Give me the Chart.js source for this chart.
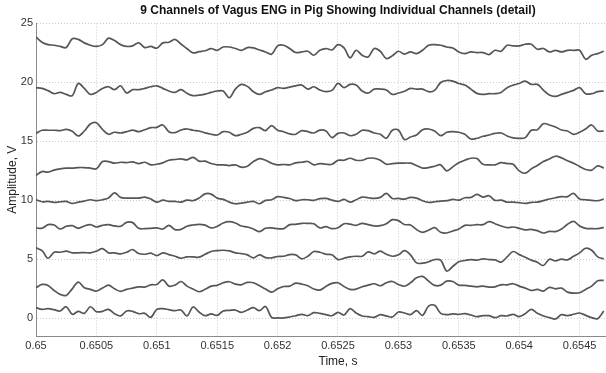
<!DOCTYPE html>
<html>
<head>
  <title>Vagus ENG - 9 channels</title>
  <script src="https://cdn.jsdelivr.net/npm/chart.js"></script>
  <style>
    html, body { margin: 0; padding: 0; background: #fff; overflow: hidden; }
    .wrap { width: 606px; height: 373px; overflow: hidden; position: relative; }
    canvas { display: block; }
  </style>
</head>
<body>
  <div class="wrap">
    <canvas id="eng" width="642" height="373"></canvas>
  </div>

  <script>
    // sampling grid (s)
    const tStart = 0.65;
    const tStep = 0.00005;

    const xTickLabels = ['0.65', '0.6505', '0.651', '0.6515', '0.652', '0.6525', '0.653', '0.6535', '0.654', '0.6545'];
    const yTickLabels = [0, 5, 10, 15, 20, 25];

    // one array per channel (V)
    const ch1 = [0.9,0.76,0.82,0.73,0.62,0.98,0.34,0.59,0.42,0.98,0.56,0.59,0.76,0.39,0.2,0.62,0.59,0.39,0.42,0.08,0.76,0.82,0.73,0.65,0.7,0.2,0.96,0.53,0.22,
      0.37,0.25,0.62,0.67,0.7,0.51,0.7,0.9,0.65,1.01,0.08,0.03,0.03,0.11,0.22,0.34,0.22,0.48,0.42,0.31,0.22,0.51,0.28,0.82,0.45,0.2,0.14,0.08,0.31,0.2,0.11,0.53,0.45,
      0.31,0.65,0.25,1.04,1.1,0.42,0.31,0.37,0.34,0.39,0.28,0.14,0.22,0.22,0.06,0.22,0.2,0.34,0.14,0.39,0.76,0.42,0.2,0.06,-0.06,0.31,0.22,0.34,0.45,0.25,0.06,-0.03,0.62];
    const ch2 = [2.59,2.87,2.79,2.36,2.03,1.94,2.5,3.07,2.59,2.45,2.31,2.56,2.81,2.5,2.28,2.45,2.56,2.67,2.65,2.84,2.87,3.26,2.73,2.81,3.12,2.73,2.48,2.25,2.46,
      2.73,2.79,3.01,3.1,2.9,2.84,3.04,3.01,2.76,2.48,2.22,2.5,2.7,2.73,2.98,2.9,2.76,2.48,2.39,2.7,2.96,3.01,2.7,2.45,2.48,2.67,2.81,2.93,2.76,3.01,3.12,2.87,2.72,
      3.01,3.43,3.55,3.15,2.79,2.81,3.15,3.12,2.81,2.79,2.73,2.67,2.73,2.65,2.67,2.84,2.84,2.93,2.73,2.56,2.36,2.45,2.31,2.62,2.5,2.56,2.22,2.14,2.17,2.45,2.73,3.18,3.21];
    const ch3 = [5.97,5.74,5.09,5.6,5.6,5.69,5.55,5.55,5.57,5.55,5.69,5.91,5.55,5.55,5.46,5.6,5.83,5.49,5.43,5.52,5.32,5.55,5.4,5.26,5.09,5.21,5.21,5.18,5.43,
      5.66,5.74,5.77,5.71,5.55,5.49,5.38,5.12,5.38,5.15,5.12,5.24,5.26,5.4,5.38,5.04,5.26,5.66,5.6,5.43,5.38,4.98,5.09,5.21,5.26,5.26,5.63,5.46,5.69,5.43,5.26,5.38,5.73,
      5.38,4.7,4.67,4.79,4.98,4.93,4.0,4.39,4.79,4.9,4.98,4.93,5.04,4.98,4.95,4.76,5.21,5.66,5.4,5.18,4.93,4.76,4.48,5.01,4.87,5.01,4.95,5.26,5.55,5.94,5.77,5.21,5.04];
    const ch4 = [7.66,7.63,7.94,7.91,7.57,7.8,7.85,7.63,7.83,7.94,7.74,7.88,7.94,7.83,7.8,8.13,8.11,7.63,7.6,7.63,7.66,7.57,7.88,7.52,7.54,7.8,7.91,7.97,7.9,
      7.66,7.8,8.08,8.19,8.08,7.83,7.74,7.57,7.35,7.63,7.66,7.6,7.6,7.94,7.97,8.05,8.05,8.02,7.66,7.77,7.6,7.68,8.02,7.99,7.88,8.05,7.94,7.83,7.85,8.02,8.36,8.28,7.95,
      7.91,7.52,7.29,7.46,7.68,7.29,7.23,7.4,7.57,7.88,7.88,7.94,7.94,8.19,8.02,7.83,7.68,7.74,7.63,7.49,7.54,7.43,7.23,7.37,7.35,7.57,7.97,8.22,7.83,7.63,7.6,7.6,7.71];
    const ch5 = [10.05,9.88,9.91,9.83,9.88,9.91,9.74,9.85,9.94,10.05,9.97,10.05,10.19,10.64,10.25,10.19,10.19,10.19,10.28,10.11,9.85,10.02,9.91,9.91,9.85,10.02,9.97,10.19,10.55,
      10.53,10.19,10.08,9.85,9.71,9.77,9.85,9.91,9.71,10.0,10.05,10.31,10.25,10.16,9.97,10.05,10.05,10.0,10.14,10.16,10.02,9.91,10.08,9.85,10.05,10.28,10.22,10.16,10.25,10.59,10.16,10.16,10.1,
      10.25,10.19,9.97,9.83,9.88,9.94,9.97,10.08,10.02,10.22,10.25,10.5,10.28,10.39,10.0,10.02,9.85,9.85,9.8,9.74,9.83,9.85,9.97,10.11,10.22,10.31,10.31,10.59,10.11,10.05,10.0,9.97,10.11];
    const ch6 = [12.11,12.44,12.39,12.56,12.67,12.73,12.73,12.78,12.78,12.73,12.67,13.29,13.29,13.15,13.23,13.2,13.26,13.12,13.23,13.01,13.06,13.18,13.4,13.46,13.51,13.43,13.65,13.32,13.32,
      13.12,13.01,13.01,12.95,13.01,12.81,12.89,13.29,13.54,13.4,13.15,13.01,13.04,13.01,13.18,13.23,13.29,13.01,13.12,13.06,13.06,13.4,13.4,13.57,13.4,13.4,13.57,13.57,13.4,13.06,13.12,13.15,13.16,
      13.15,12.95,12.73,12.78,12.89,13.01,12.5,12.84,13.18,13.4,13.57,13.54,13.06,13.01,13.01,13.2,13.12,13.06,12.5,12.3,12.67,12.95,13.29,13.51,13.74,13.6,13.35,13.15,12.87,12.61,12.56,12.92,12.73];
    const ch7 = [15.68,15.94,15.94,15.94,15.91,16.02,15.85,15.46,15.88,16.47,16.58,16.02,15.6,15.77,15.71,15.82,15.96,15.82,15.99,16.16,16.19,16.39,15.82,15.74,15.96,16.05,15.94,15.88,15.72,
      15.6,15.54,15.82,15.77,15.48,15.6,15.77,16.1,16.16,15.91,16.33,15.94,15.82,15.63,15.6,15.91,15.82,15.71,15.96,15.88,15.32,15.68,15.71,15.48,15.6,15.94,15.91,15.71,15.6,15.26,15.94,15.96,15.15,
      15.37,15.54,15.99,16.05,15.88,15.48,15.77,15.82,15.77,15.6,15.2,15.26,15.43,15.54,15.68,15.71,15.46,15.29,15.26,15.32,15.94,15.99,16.5,16.39,16.22,15.96,15.88,15.6,15.77,16.05,16.39,15.88,15.88];
    const ch8 = [19.54,19.49,19.3,19.04,19.15,18.98,18.87,19.91,19.49,18.98,19.15,19.49,19.63,19.38,19.71,19.1,19.38,19.38,19.49,19.63,19.71,19.49,19.27,19.15,19.38,19.07,18.87,18.92,19.0,
      19.15,19.27,19.27,18.7,19.43,19.83,19.66,19.21,18.98,19.21,19.35,19.55,19.49,19.6,19.71,19.77,19.43,19.63,19.35,19.21,19.32,19.91,19.55,19.83,19.77,19.27,19.1,19.43,19.43,19.35,18.98,19.1,19.25,
      19.49,19.43,19.43,19.21,19.32,19.99,20.16,20.11,19.91,19.77,19.43,19.07,18.98,19.04,19.04,19.15,19.55,19.77,19.91,20.11,19.83,19.83,19.35,18.92,18.81,18.98,19.15,19.32,19.55,19.04,19.04,19.21,19.27];
    const ch9 = [23.85,23.4,23.2,23.15,23.05,22.95,23.7,23.65,23.35,23.15,23.05,23.2,23.75,23.55,23.2,23.05,23.1,23.35,22.95,23.05,22.9,23.35,23.4,23.65,23.25,22.85,22.5,22.6,22.68,
      22.87,22.72,23.0,23.0,22.87,22.72,22.95,22.92,22.75,22.58,22.39,23.09,23.15,22.87,22.53,22.58,22.64,22.3,22.72,22.87,22.75,23.2,22.92,22.08,22.72,22.3,22.16,22.87,22.64,22.02,22.25,22.64,22.4,
      22.58,22.44,22.72,23.15,23.2,23.15,23.0,22.92,22.58,22.44,22.58,22.53,22.53,22.36,22.72,22.64,23.15,23.09,23.09,23.23,23.23,22.81,22.87,22.58,22.72,22.58,22.72,22.72,22.72,21.96,22.3,22.44,22.64];

    const channels = [ch1, ch2, ch3, ch4, ch5, ch6, ch7, ch8, ch9];
    const font = 'Arial, "Liberation Sans", sans-serif';

    const datasets = channels.map((vals, c) => ({
      label: 'Channel ' + (c + 1),
      data: vals.map((v, i) => ({ x: tStart + i * tStep, y: v })),
      borderColor: '#565656',
      borderWidth: 1.7,
      pointRadius: 0,
      tension: 0.35,
      fill: false
    }));

    new Chart(document.getElementById('eng').getContext('2d'), {
      type: 'line',
      data: { datasets: datasets },
      options: {
        responsive: false,
        animation: false,
        devicePixelRatio: 1,
        layout: { padding: { top: 0, right: 2, bottom: 0, left: 0 } },
        plugins: {
          legend: { display: false },
          tooltip: { enabled: false },
          title: {
            display: true,
            text: '9 Channels of Vagus ENG in Pig Showing Individual Channels (detail)',
            fullSize: false,
            color: '#111',
            font: { family: font, size: 12, weight: 'bold' },
            padding: { top: 3, bottom: 6 }
          }
        },
        scales: {
          x: {
            type: 'linear',
            min: 0.65,
            max: 0.655,
            afterBuildTicks: (scale) => {
              scale.ticks = xTickLabels.map(s => ({ value: parseFloat(s) }));
            },
            afterFit: (scale) => { scale.height = 37; },
            ticks: {
              callback: (value, index) => xTickLabels[index],
              color: '#333',
              font: { family: font, size: 11 },
              padding: 3,
              maxRotation: 0,
              autoSkip: false
            },
            grid: { color: '#cccccc', drawTicks: false },
            border: { color: '#8a8a8a', dash: [1, 2] },
            title: {
              display: true,
              text: 'Time, s',
              color: '#222',
              font: { family: font, size: 12 },
              padding: { top: 0, bottom: 4 }
            }
          },
          y: {
            min: -1.5,
            max: 25,
            afterBuildTicks: (scale) => {
              scale.ticks = yTickLabels.map(v => ({ value: v }));
            },
            afterFit: (scale) => { scale.width = 36; },
            ticks: {
              callback: (value) => String(value),
              color: '#333',
              font: { family: font, size: 11 },
              padding: 3
            },
            grid: { color: '#cccccc', drawTicks: false },
            border: { color: '#8a8a8a', dash: [1, 2] },
            title: {
              display: true,
              text: 'Amplitude, V',
              color: '#222',
              font: { family: font, size: 12 },
              padding: { top: 5, bottom: 0 }
            }
          }
        }
      }
    });
  </script>
</body>
</html>
